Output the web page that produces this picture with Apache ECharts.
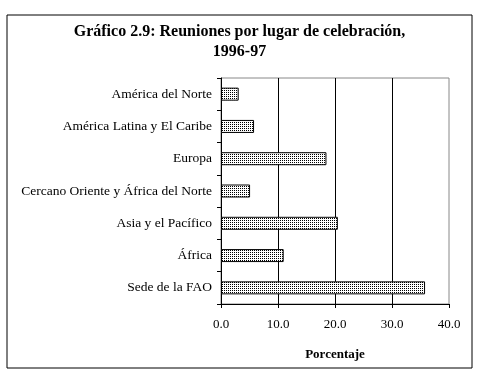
<!DOCTYPE html>
<html>
<head>
<meta charset="utf-8">
<script src="https://cdn.jsdelivr.net/npm/echarts@6/dist/echarts.min.js"></script>
<style>
    html, body { margin: 0; padding: 0; background: #fff; }
    #main { width: 479px; height: 376px; }
</style>
</head>
<body>
<div id="main"></div>
<script>
    var categories = ['América del Norte', 'América Latina y El Caribe', 'Europa',
        'Cercano Oriente y África del Norte', 'Asia y el Pacífico', 'África', 'Sede de la FAO'];
    var values = [3.1, 5.8, 18.5, 5.1, 20.5, 11.0, 35.8];
    var xTicks = [0, 10, 20, 30, 40];

    // trama de puntos para las barras
    var makeDots = function () {
        var c = document.createElement('canvas');
        c.width = 2;
        c.height = 2;
        var ctx = c.getContext('2d');
        ctx.fillStyle = '#fff';
        ctx.fillRect(0, 0, 2, 2);
        ctx.fillStyle = '#000';
        ctx.fillRect(0, 0, 1, 1);
        return c;
    };

    var font = '"Liberation Serif", "Times New Roman", serif';
    var chart = echarts.init(document.getElementById('main'));
    var option = {
        animation: false,
        title: {
            text: 'Gráfico 2.9: Reuniones por lugar de celebración,\n1996-97',
            left: 'center',
            top: 17,
            textStyle: {fontFamily: font, fontSize: 16, fontWeight: 'bold', color: '#000', lineHeight: 20}
        },
        graphic: [{
            type: 'rect',
            shape: {x: 7, y: 15, width: 465, height: 353},
            style: {fill: 'none', stroke: '#000', lineWidth: 1}
        }],
        grid: {
            left: 221, right: 30, top: 78, bottom: 72,
            show: true, borderColor: '#888', borderWidth: 1
        },
        xAxis: {
            type: 'value',
            min: xTicks[0],
            max: xTicks[xTicks.length - 1],
            interval: 10,
            name: 'Porcentaje',
            nameLocation: 'middle',
            nameGap: 44,
            nameTextStyle: {fontFamily: font, fontSize: 13, fontWeight: 'bold', color: '#000'},
            axisLine: {show: true, lineStyle: {color: '#000', width: 1}},
            axisTick: {show: true, length: 4, lineStyle: {color: '#000'}},
            axisLabel: {
                fontFamily: font, fontSize: 13, color: '#000', margin: 14,
                formatter: function (v) { return v.toFixed(1); }
            },
            splitLine: {show: true, showMinLine: false, showMaxLine: false, lineStyle: {color: '#000', width: 1}}
        },
        yAxis: {
            type: 'category',
            data: categories,
            inverse: true,
            axisLine: {show: true, lineStyle: {color: '#000', width: 1}},
            axisTick: {show: true, length: 4, lineStyle: {color: '#000'}},
            axisLabel: {fontFamily: font, fontSize: 13.5, color: '#000', margin: 9},
            splitLine: {show: false}
        },
        series: [{
            type: 'bar',
            data: values,
            barWidth: 13,
            itemStyle: {
                color: {image: makeDots(), repeat: 'repeat'},
                borderColor: '#000',
                borderWidth: 1
            }
        }]
    };
    chart.setOption(option);
</script>
</body>
</html>
